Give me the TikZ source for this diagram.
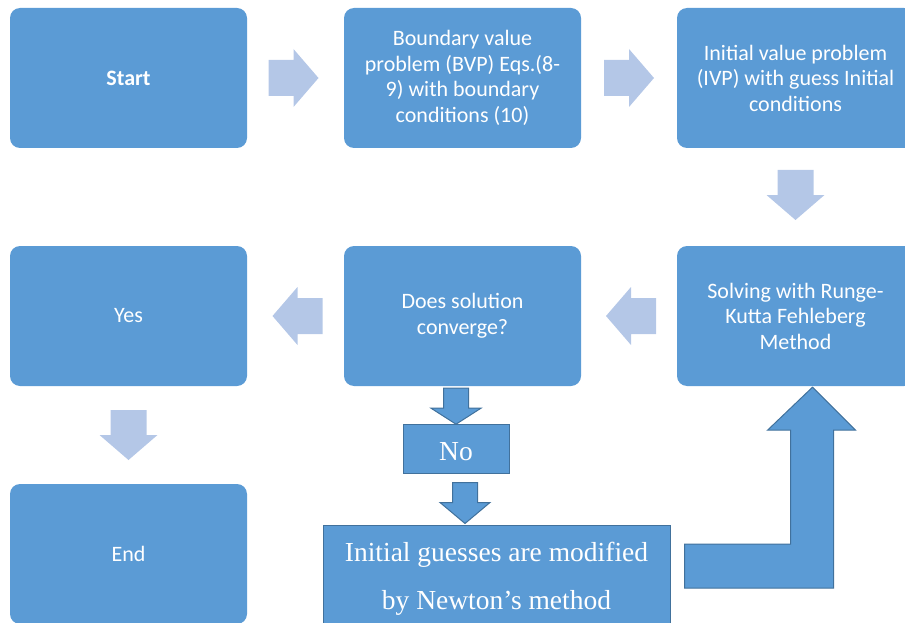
\documentclass[tikz,border=0pt]{standalone}
\usepackage{fontspec}
\setmainfont{Carlito}
\newfontfamily\serifface{Liberation Serif}
\usepackage{tikz}
\usetikzlibrary{calc}

\definecolor{boxblue}{HTML}{5B9BD5}
\definecolor{paleblue}{HTML}{B4C7E7}
\definecolor{edgeblue}{HTML}{41719C}

\begin{document}
\begin{tikzpicture}[x=1pt,y=-1pt,
  stepbox/.style={rectangle,rounded corners=10pt,fill=boxblue,text=white,minimum width=237pt,minimum height=140pt,
    align=center,inner sep=0pt,font=\fontsize{22}{25.5}\selectfont},
  plainbox/.style={rectangle,fill=boxblue,draw=edgeblue,line width=1pt,text=white,align=center,inner sep=0pt,
    font=\serifface\fontsize{27.5}{48}\selectfont},
  palearrow/.pic={\fill[paleblue] (-25,-18) -- (0,-18) -- (0,-29) -- (25,0) -- (0,29) -- (0,18) -- (-25,18) -- cycle;},
  darkarrow/.pic={\draw[fill=boxblue,draw=edgeblue,line width=1pt] (0,-12.5) -- (20,-12.5) -- (20,-25) -- (20+#1,0)
    -- (20,25) -- (20,12.5) -- (0,12.5) -- cycle;}]

  \useasboundingbox (0,0) rectangle (905,623);
  \clip (0,0) rectangle (905,623);

  % top row
  \node[stepbox] (start) at (128.5,78) {\textbf{Start}};
  \node[stepbox] (bvp) at (462.5,78) {Boundary value\\problem (BVP) Eqs.(8-\\9) with boundary\\conditions (10)};
  \node[stepbox] (ivp) at (795.5,78) {Initial value problem\\(IVP) with guess Initial\\conditions};

  % middle row
  \node[stepbox] (yes) at (128.5,316) {Yes};
  \node[stepbox] (does) at (462.5,316) {Does solution\\converge?};
  \node[stepbox] (solve) at (795.5,316) {Solving with Runge-\\Kutta Fehleberg\\Method};

  % bottom
  \node[stepbox] (end) at (128.5,554) {End};
  \node[plainbox,minimum width=106pt,minimum height=49pt,text height=24pt,text depth=0pt] (no) at (456,448.5) {No};
  \node[plainbox,minimum width=347pt,minimum height=108pt] (guess) at (496.5,579) {Initial guesses are modified\\by Newton’s method};

  % pale block arrows
  \pic (r1) at ($(start.east)!.5!(bvp.west)+(-2,0)$) {palearrow};
  \pic (r2) at ($(bvp.east)!.5!(ivp.west)$) {palearrow};
  \pic[rotate=-90] (d1) at ($(ivp.south)!.5!(solve.north)+(0,-2)$) {palearrow};
  \pic[rotate=180] (l1) at ($(does.west)!.5!(yes.east)+(2,0)$) {palearrow};
  \pic[rotate=180] (l2) at ($(solve.west)!.5!(does.east)+(2,0)$) {palearrow};
  \pic[rotate=-90] (d2) at ($(yes.south)!.5!(end.north)$) {palearrow};

  % dark block arrows
  \pic[rotate=-90] (k1) at ($(does.south -| no.north)+(0,2)$) {darkarrow=16};
  \pic[rotate=-90] (k2) at ($(no.south)+(9,9)$) {darkarrow=21};

  % bent arrow up to the solver
  \coordinate (bendtip) at ($(solve.south)+(17,1)$);
  \draw[fill=boxblue,draw=edgeblue,line width=1pt] (bendtip) -- ++(43,43) -- ++(-22,0) -- ++(0,158) -- ++(-149,0)
    -- ++(0,-44) -- ++(106,0) -- ++(0,-114) -- ++(-23,0) -- cycle;
\end{tikzpicture}
\end{document}
